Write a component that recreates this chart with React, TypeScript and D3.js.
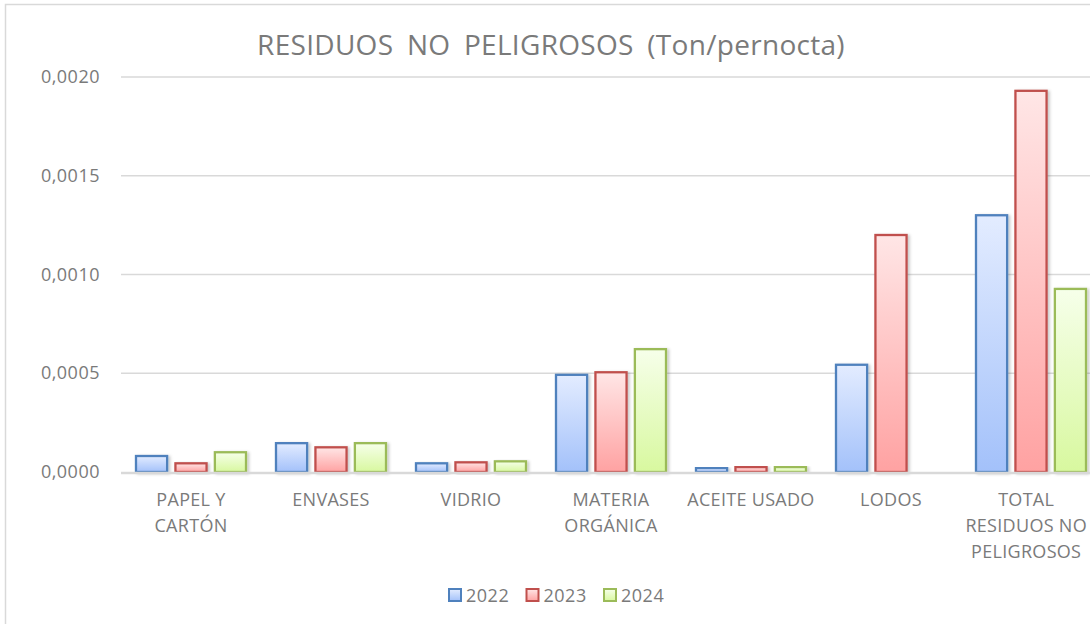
import React, {useEffect, useRef} from 'react';
import * as d3 from 'd3';

// categories (each entry is the lines of its axis label)
const categories: string[] = ["PAPEL Y CARTÓN", "ENVASES", "VIDRIO", "MATERIA ORGÁNICA", "ACEITE USADO", "LODOS", "TOTAL RESIDUOS NO PELIGROSOS"];
const categoryLines: string[][] = [["PAPEL Y", "CARTÓN"], ["ENVASES"], ["VIDRIO"], ["MATERIA", "ORGÁNICA"], ["ACEITE USADO"], ["LODOS"], ["TOTAL", "RESIDUOS NO", "PELIGROSOS"]];
const years: string[] = ["2022", "2023", "2024"];

// Ton/pernocta
const values2022: number[] = [0.000081, 0.000146, 0.000044, 0.000492, 0.00002, 0.000543, 0.0013];
const values2023: number[] = [0.000044, 0.000125, 0.000049, 0.000505, 0.000025, 0.0012, 0.00193];
const values2024: number[] = [0.0001, 0.000146, 0.000054, 0.000622, 0.000025, 0, 0.000927];
const yTicks: number[] = [0, 0.0005, 0.001, 0.0015, 0.002];

const App = () => {
  const ref = useRef<SVGSVGElement>(null);

  useEffect(() => {
    drawChart();
    return () => {
      if (ref.current) d3.select(ref.current).selectAll("*").remove();
    };
  }, []);

  const drawChart = () => {
    const width = 1090;
    const height = 624;
    const font = "'Open Sans', sans-serif";
    const textColor = "#7a7a7a";

    const series = [values2022, values2023, values2024];
    const strokes = ["#4f81bd", "#c0504d", "#9bbb59"];
    const gradTop = ["#e3ecff", "#ffe6e6", "#f6ffea"];
    const gradBottom = ["#a3c1fa", "#ffa2a2", "#d8f89f"];

    const svg = d3.select(ref.current)
      .attr("width", width)
      .attr("height", height);

    svg.append("rect")
      .attr("width", width).attr("height", height).attr("fill", "#ffffff");

    // chart frame (only top and left visible in the crop)
    svg.append("path")
      .attr("d", `M5.5,${height} V4.5 H${width}`)
      .attr("fill", "none")
      .attr("stroke", "#d9d9d9")
      .attr("stroke-width", 1.5);

    const defs = svg.append("defs");
    years.forEach((y, i) => {
      const g = defs.append("linearGradient")
        .attr("id", `grad${i}`)
        .attr("x1", 0).attr("y1", 0).attr("x2", 0).attr("y2", 1);
      g.append("stop").attr("offset", "0%").attr("stop-color", gradTop[i]);
      g.append("stop").attr("offset", "100%").attr("stop-color", gradBottom[i]);
    });
    const shadow = defs.append("filter").attr("id", "shadow")
      .attr("x", "-20%").attr("y", "-20%").attr("width", "150%").attr("height", "150%");
    shadow.append("feDropShadow")
      .attr("dx", 2).attr("dy", 1).attr("stdDeviation", 1.6)
      .attr("flood-color", "#000").attr("flood-opacity", 0.22);

    // title
    svg.append("text")
      .attr("x", 551).attr("y", 55)
      .attr("text-anchor", "middle")
      .attr("font-family", font)
      .attr("font-size", 28)
      .attr("letter-spacing", 0.3)
      .attr("word-spacing", 6)
      .attr("fill", textColor)
      .text("RESIDUOS NO PELIGROSOS (Ton/pernocta)");

    const x0 = d3.scaleBand<string>()
      .domain(categories)
      .range([121, 1101]);

    const x1 = d3.scaleBand<string>()
      .domain(years)
      .range([14, x0.bandwidth() - 14])
      .paddingInner(0.16);

    const y = d3.scaleLinear()
      .domain([0, 0.002])
      .range([472, 77]);

    const fmt = (d: number) => d3.format(".4f")(d).replace(".", ",");

    // gridlines
    svg.append("g").selectAll("line")
      .data(yTicks.filter(d => d > 0))
      .enter().append("line")
      .attr("x1", 121).attr("x2", width)
      .attr("y1", d => y(d)).attr("y2", d => y(d))
      .attr("stroke", "#d9d9d9")
      .attr("stroke-width", 1.4);

    svg.append("g").selectAll("text")
      .data(yTicks)
      .enter().append("text")
      .attr("x", 100)
      .attr("y", d => y(d) + 6)
      .attr("text-anchor", "end")
      .attr("font-family", font)
      .attr("font-size", 18)
      .attr("letter-spacing", 0.5)
      .attr("fill", textColor)
      .text(fmt);

    // bars
    const groups = svg.append("g").selectAll("g")
      .data(categories)
      .enter().append("g")
      .attr("transform", d => `translate(${x0(d)},0)`);

    groups.selectAll("rect")
      .data((d, ci) => years.map((yr, si) => ({yr, si, v: series[si][ci]})))
      .enter().append("rect")
      .filter(d => d.v > 0)
      .attr("x", d => x1(d.yr)! + 1)
      .attr("y", d => y(d.v))
      .attr("width", x1.bandwidth() - 2)
      .attr("height", d => y(0) - y(d.v))
      .attr("fill", d => `url(#grad${d.si})`)
      .attr("stroke", d => strokes[d.si])
      .attr("stroke-width", 2.3)
      .attr("filter", "url(#shadow)");

    // baseline
    svg.append("line")
      .attr("x1", 121).attr("x2", width)
      .attr("y1", y(0) + 1).attr("y2", y(0) + 1)
      .attr("stroke", "#d9d9d9")
      .attr("stroke-width", 2.5);

    // category labels
    const labels = svg.append("g").selectAll("text")
      .data(categories)
      .enter().append("text")
      .attr("text-anchor", "middle")
      .attr("font-family", font)
      .attr("font-size", 18)
      .attr("letter-spacing", 0.3)
      .attr("fill", textColor);

    labels.each(function (d, i) {
      const t = d3.select(this);
      const cx = x0(d)! + x0.bandwidth() / 2;
      const spans = categoryLines[i].map((line, li) =>
        t.append("tspan")
          .attr("x", cx)
          .attr("y", 506 + li * 26)
          .text(line));
      // keep the label inside the picture, like the original does
      const widest = d3.max(spans, s => (s.node() as SVGTextContentElement).getComputedTextLength()) || 0;
      const shift = Math.min(0, width - 3 - (cx + widest / 2));
      spans.forEach(s => s.attr("x", cx + shift));
    });

    // legend
    const legend = svg.append("g").selectAll("g")
      .data(years)
      .enter().append("g")
      .attr("transform", (d, i) => `translate(${449 + i * 77.5},589)`);

    legend.append("rect")
      .attr("width", 12).attr("height", 12)
      .attr("fill", (d, i) => `url(#grad${i})`)
      .attr("stroke", (d, i) => strokes[i])
      .attr("stroke-width", 2);

    legend.append("text")
      .attr("x", 17).attr("y", 13)
      .attr("font-family", font)
      .attr("font-size", 18)
      .attr("letter-spacing", 0.5)
      .attr("fill", textColor)
      .text(d => d);
  };

  return (
    <svg ref={ref} style={{position: "absolute", left: 0, top: 0}}></svg>
  );
};

export default App;
